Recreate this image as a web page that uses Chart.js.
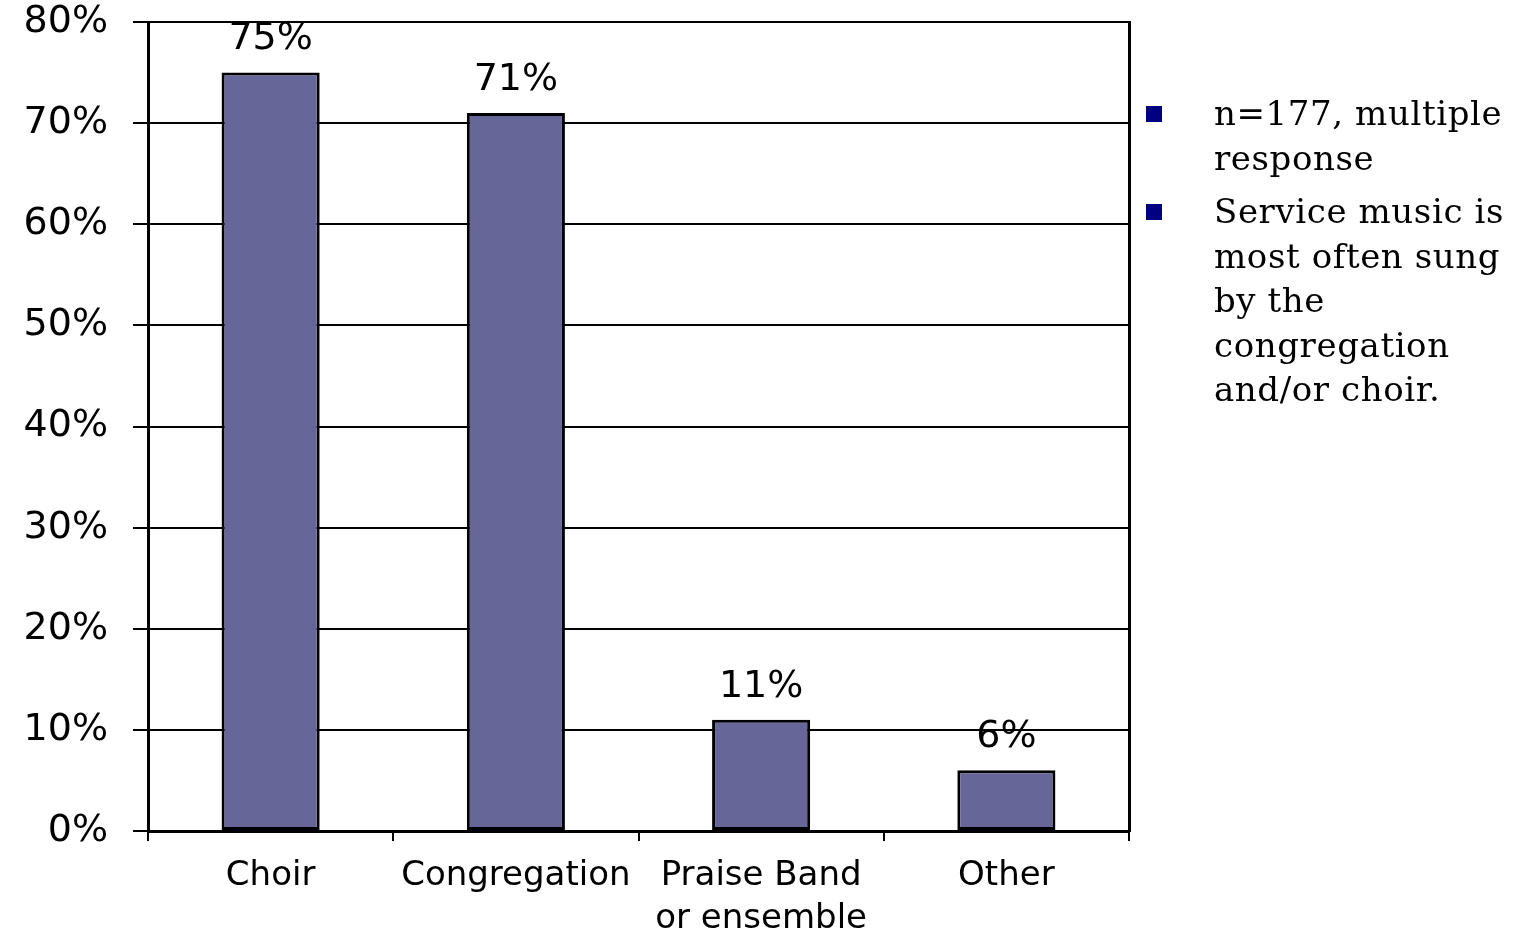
<!DOCTYPE html>
<html lang="en">
<head>
  <meta charset="UTF-8">
  <title>Who sings the service music</title>
  <script src="https://cdn.jsdelivr.net/npm/chart.js"></script>
  <style>
    html, body {
      margin: 0;
      padding: 0;
      background: #ffffff;
    }
    #wrap {
      position: relative;
      width: 1523px;
      height: 930px;
    }
    #notes {
      position: absolute;
      left: 1140px;
      top: 91px;
      font-family: 'DejaVu Serif', serif;
      font-size: 34px;
      letter-spacing: 0.6px;
      line-height: 44.5px;
      color: #000;
    }
    .note {
      position: relative;
      padding-left: 74px;
      margin-bottom: 9px;
    }
    .note::before {
      content: "";
      position: absolute;
      left: 6px;
      top: 15px;
      width: 16px;
      height: 16px;
      background: #000080;
    }
  </style>
</head>
<body>
  <div id="wrap">
    <canvas id="singChart" width="1523" height="930"></canvas>
    <div id="notes">
      <div class="note">n=177, multiple<br>response</div>
      <div class="note">Service music is<br>most often sung<br>by the<br>congregation<br>and/or choir.</div>
    </div>
  </div>
  <script>
    const categories = [["Choir"], ["Congregation"], ["Praise Band", "or ensemble"], ["Other"]];
    const percentages = [75, 71, 11, 6];
    const yTicks = [0, 10, 20, 30, 40, 50, 60, 70, 80];

    // writes the value above each bar
    const barLabels = {
      id: 'barLabels',
      afterDatasetsDraw(chart) {
        const ctx = chart.ctx;
        const meta = chart.getDatasetMeta(0);
        ctx.save();
        ctx.font = '38px "DejaVu Sans", Verdana, sans-serif';
        ctx.fillStyle = '#000';
        ctx.textAlign = 'center';
        ctx.textBaseline = 'bottom';
        meta.data.forEach((bar, i) => {
          ctx.fillText(percentages[i] + '%', bar.x, bar.y - 14);
        });
        ctx.restore();
      }
    };

    Chart.defaults.font.family = '"DejaVu Sans", Verdana, sans-serif';
    Chart.defaults.color = '#000';

    new Chart(document.getElementById('singChart'), {
      type: 'bar',
      data: {
        labels: categories,
        datasets: [{
          data: percentages,
          backgroundColor: '#666699',
          borderColor: '#000',
          borderWidth: 3,
          borderSkipped: false,
          barPercentage: 0.4,
          categoryPercentage: 1
        }]
      },
      options: {
        responsive: false,
        animation: false,
        layout: {
          padding: { top: 22, right: 394, left: 0, bottom: 0 }
        },
        plugins: {
          legend: { display: false },
          tooltip: { enabled: false }
        },
        scales: {
          x: {
            offset: true,
            grid: {
              offset: true,
              drawOnChartArea: false,
              drawTicks: true,
              tickLength: 10,
              color: '#000',
              lineWidth: 2
            },
            border: { color: '#000', width: 3 },
            ticks: {
              font: { size: 34, lineHeight: 1.25 },
              padding: 14,
              maxRotation: 0
            },
            afterFit(scale) {
              scale.height = 99;
              scale.paddingLeft = 0;
              scale.paddingRight = 0;
            }
          },
          y: {
            min: 0,
            max: 80,
            afterBuildTicks(scale) {
              scale.ticks = yTicks.map(v => ({ value: v }));
            },
            grid: {
              color: '#000',
              lineWidth: 2,
              tickLength: 15
            },
            border: { color: '#000', width: 3 },
            ticks: {
              font: { size: 38 },
              padding: 25,
              callback: v => v + '%'
            },
            afterFit(scale) {
              scale.width = 148;
              scale.paddingTop = 0;
              scale.paddingBottom = 0;
            }
          },
          y2: {
            position: 'right',
            min: 0,
            max: 80,
            grid: { drawOnChartArea: false, drawTicks: false },
            border: { color: '#000', width: 3 },
            ticks: { display: false },
            afterFit(scale) { scale.width = 0; }
          }
        }
      },
      plugins: [barLabels]
    });
  </script>
</body>
</html>
